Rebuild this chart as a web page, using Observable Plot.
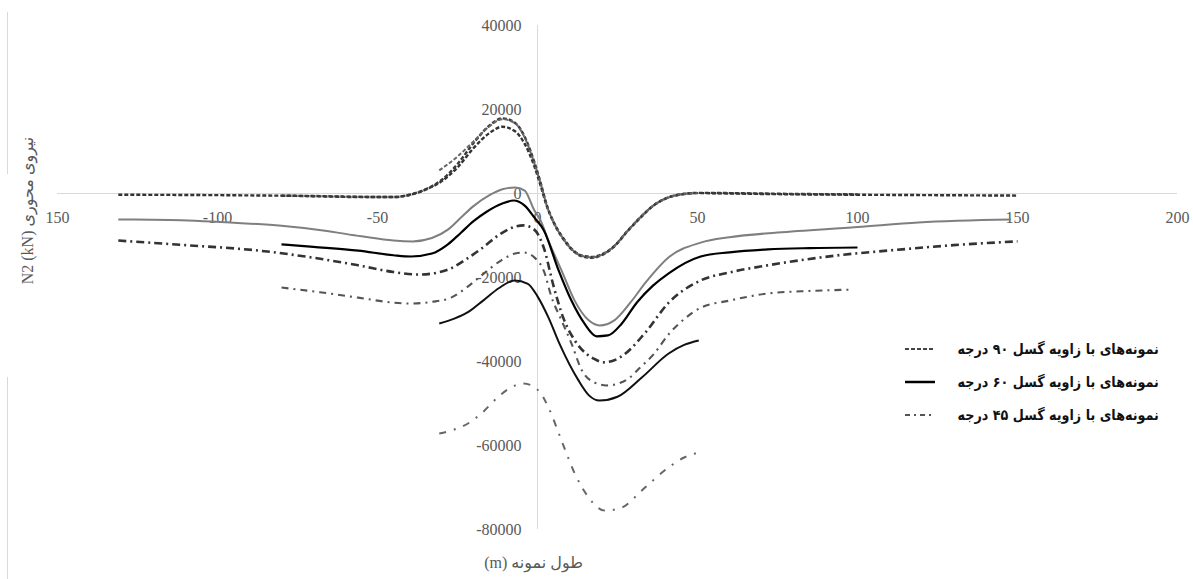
<!DOCTYPE html>
<html>
<head>
<meta charset="utf-8">
<script src="https://cdn.jsdelivr.net/npm/d3@7"></script>
<script src="https://cdn.jsdelivr.net/npm/@observablehq/plot@0.6"></script>
<style>
  html, body { margin: 0; padding: 0; background: #fff; }
  #wrap { position: relative; width: 1193px; height: 579px; overflow: hidden; }
  .border { position: absolute; left: 7px; width: 1px; background: #d9d9d9; }
  #legend { position: absolute; left: 903px; top: 333px; width: 256px; }
  .row { position: relative; height: 33px; }
  .row svg { position: absolute; left: 0; top: 11px; }
  .row span { position: absolute; right: 0; top: 6px; white-space: nowrap; direction: rtl;
              font-family: "DejaVu Sans", sans-serif; font-weight: bold; font-size: 14.5px; line-height: 20px; color: #111;
              transform: scaleX(0.88); transform-origin: right center; }
</style>
</head>
<body>
<div id="wrap">
  <div class="border" style="top:12px;height:162px"></div>
  <div class="border" style="top:377px;height:202px"></div>
  <div id="chart"></div>
  <div id="legend"></div>
</div>
<script>
// ---- axis ticks ----
const xTicks = [-150, -100, -50, 0, 50, 100, 150, 200];
const xTickLabels = ["150", "-100", "-50", "0", "50", "100", "150", "200"];
const yTicks = [40000, 20000, 0, -20000, -40000, -60000, -80000];

const yTitle = "N2 (kN) نیروی محوری";
const xTitle = "طول نمونه (m)";
const legendLabels = [
  "نمونه‌های با زاویه گسل ۹۰ درجه",
  "نمونه‌های با زاویه گسل ۶۰ درجه",
  "نمونه‌های با زاویه گسل ۴۵ درجه"
];

// ---- fault angle 90° (dashed) ----
const f90_long = [[-131,-300],[-110,-350],[-90,-450],[-70,-600],[-55,-800],[-45,-850],[-40,-350],[-35,900],[-30,2900],[-25,6200],[-20,10800],[-15,14400],[-11,15900],[-7,14800],[-4,11800],[-1,6500],[1,1800],[3,-3200],[5,-6800],[8,-10600],[11,-13400],[14,-14800],[17,-15100],[20,-14500],[24,-12500],[28,-9000],[32,-5800],[36,-3000],[40,-1200],[45,-200],[50,100],[60,0],[80,-200],[100,-300],[125,-400],[150,-500]];
const f90_mid = [[-80,-500],[-70,-650],[-55,-850],[-45,-850],[-40,-300],[-35,1000],[-30,3200],[-25,7000],[-20,12000],[-15,16200],[-11,17900],[-7,16800],[-4,13500],[-1,7500],[1,2500],[3,-3000],[5,-6800],[8,-10800],[11,-13600],[14,-15000],[17,-15300],[20,-14700],[24,-12600],[28,-9100],[32,-5900],[36,-3000],[40,-1200],[45,-200],[50,150],[60,100],[80,-100],[100,-200]];
const f90_short = [[-30.7,5500],[-25,8800],[-20,12400],[-15,16000],[-11,17700],[-7,16700],[-4,13300],[-1,7200],[1,2300],[3,-3100],[5,-6800],[8,-10700],[11,-13500],[14,-14900],[17,-15200],[20,-14600],[24,-12500],[28,-9000],[32,-5800],[36,-3000],[40,-1200],[45,-200],[50,100]];

// ---- fault angle 60° (solid) ----
const f60_long = [[-131,-6200],[-115,-6300],[-96,-6900],[-80,-7700],[-67,-8800],[-55,-10200],[-45,-11200],[-39,-11400],[-33,-10600],[-28,-8600],[-24,-5800],[-20,-3000],[-15,-400],[-11,1000],[-7,1450],[-4,700],[-1,-4000],[1,-6500],[3.4,-11200],[7.5,-18300],[11.6,-25500],[16,-30200],[19.4,-31400],[24,-30200],[29,-26000],[34,-21000],[41,-15200],[51,-11700],[60,-10400],[75,-9300],[100,-8000],[119,-6900],[148,-6200]];
const f60_mid = [[-80,-12100],[-70,-12700],[-56,-13600],[-45,-14700],[-39.5,-15000],[-33,-14300],[-28,-12100],[-24,-9400],[-20,-6600],[-16,-4400],[-11,-2400],[-7.5,-1670],[-4,-2900],[-1,-5700],[2,-8800],[6.6,-18300],[10.6,-25500],[14.7,-31000],[18.5,-34000],[22,-33800],[26.3,-31000],[31,-26000],[36,-22000],[41,-19000],[51,-15000],[60,-14000],[72,-13300],[85,-13000],[100,-12860]];
const f60_short = [[-30.7,-30950],[-26,-29800],[-21.6,-28200],[-17,-25500],[-12,-22500],[-7.2,-20700],[-3,-21500],[0,-24500],[3.4,-29500],[7,-36000],[12.8,-44500],[16,-48000],[19.4,-49300],[25,-48400],[32.6,-43800],[41,-38100],[46,-36000],[50.4,-35000]];

// ---- fault angle 45° (dash-dot) ----
const f45_long = [[-131,-11200],[-110,-12300],[-87,-13600],[-70,-15300],[-56,-17100],[-45,-18700],[-37,-19300],[-31,-18800],[-27,-17800],[-22,-15500],[-17.5,-13100],[-11.3,-9500],[-7,-7900],[-4.4,-7600],[-1,-8600],[2,-13000],[5,-22000],[8,-29500],[11.5,-34800],[15,-38000],[17.5,-39300],[20.7,-40200],[24,-39700],[27,-38400],[33.5,-33300],[41,-26000],[51,-20700],[60,-18800],[72,-17100],[93,-14800],[114,-13300],[130,-12300],[150,-11400]];
const f45_mid = [[-80,-22400],[-68,-23500],[-56,-24800],[-46,-25900],[-40,-26200],[-33,-25800],[-27,-24800],[-22,-22300],[-17.5,-19500],[-11.3,-15900],[-7,-14300],[-4.4,-14050],[-1,-15200],[2,-18500],[4.4,-24700],[7.5,-30200],[10.6,-35700],[13.8,-42000],[17.8,-45000],[21.6,-45700],[25,-45300],[28.5,-44000],[32,-41500],[36.6,-38000],[41,-33500],[46,-29800],[51,-27200],[60,-25500],[72,-23800],[85,-23200],[98,-22900]];
const f45_short = [[-30.7,-57140],[-26,-56200],[-21.6,-54700],[-17,-52000],[-13.5,-49300],[-9,-46500],[-4.4,-45240],[0.3,-46900],[3.4,-50900],[7.5,-58800],[11.6,-66600],[16,-72400],[21,-75500],[26.3,-74800],[32.6,-70700],[41,-65200],[46,-62800],[50.4,-61670]];

const series = [
  {data: f90_long,  stroke: "#333",   width: 2.4, dash: "4,2"},
  {data: f90_mid,   stroke: "#3a3a3a",width: 2.4, dash: "4,2"},
  {data: f90_short, stroke: "#666",   width: 2.0, dash: "4,2"},
  {data: f60_long,  stroke: "#7f7f7f",width: 2.0, dash: null},
  {data: f60_mid,   stroke: "#000",   width: 2.2, dash: null},
  {data: f60_short, stroke: "#111",   width: 2.0, dash: null},
  {data: f45_long,  stroke: "#333",   width: 2.6, dash: "8,4,2,4"},
  {data: f45_mid,   stroke: "#555",   width: 2.1, dash: "7,5,2,5"},
  {data: f45_short, stroke: "#666",   width: 2.0, dash: "7,8,2,8"}
];

const labelFont = "'Liberation Serif', 'DejaVu Sans', serif";
const grey = "#595959";

const lineMarks = series.map(s => Plot.line(s.data.map(([x, y]) => ({x, y})), {
  x: "x", y: "y", stroke: s.stroke, strokeWidth: s.width,
  strokeDasharray: s.dash ?? undefined, strokeLinecap: "butt", curve: "monotone-x"
}));

const chart = Plot.plot({
  width: 1193,
  height: 579,
  marginLeft: 57,
  marginRight: 16,
  marginTop: 25,
  marginBottom: 50,
  x: {domain: [-150, 200], axis: null},
  y: {domain: [-80000, 40000], axis: null},
  style: {fontFamily: labelFont, background: "white"},
  marks: [
    Plot.ruleY([0], {x1: -150, x2: 200, stroke: "#d9d9d9", strokeWidth: 1}),
    Plot.ruleX([0], {y1: -80000, y2: 40000, stroke: "#d9d9d9", strokeWidth: 1}),
    Plot.text(xTicks, {x: d => d, y: 0, text: (d, i) => xTickLabels[i], dy: 24, fontSize: 16, fontFamily: labelFont, fill: grey}),
    Plot.text(yTicks, {x: 0, y: d => d, text: d => String(d), dx: -16, textAnchor: "end", fontSize: 16, fontFamily: labelFont, fill: grey}),
    Plot.text([yTitle], {frameAnchor: "left", textAnchor: "middle", lineAnchor: "middle", rotate: -90, dx: -30, dy: -67, fontSize: 16, fontFamily: labelFont, fill: grey}),
    Plot.text([xTitle], {frameAnchor: "bottom", textAnchor: "middle", lineAnchor: "middle", dx: -84, dy: 33, fontSize: 16, fontFamily: labelFont, fill: grey}),
    ...lineMarks
  ]
});
chart.querySelectorAll("text").forEach(t => {
  if (t.textContent === xTitle) { t.setAttribute("direction", "rtl"); t.style.direction = "rtl"; t.style.unicodeBidi = "embed"; }
});
document.getElementById("chart").appendChild(chart);

// ---- legend ----
const legendStyles = [
  {stroke: "#444", width: 2, dash: "4,2"},
  {stroke: "#000", width: 2.5, dash: null},
  {stroke: "#555", width: 2, dash: "5,4,2,4"}
];
const legend = document.getElementById("legend");
legendLabels.forEach((label, i) => {
  const st = legendStyles[i];
  const row = document.createElement("div");
  row.className = "row";
  row.innerHTML = `<svg width="34" height="10"><line x1="2" y1="5" x2="32" y2="5" stroke="${st.stroke}" stroke-width="${st.width}" ${st.dash ? `stroke-dasharray="${st.dash}"` : ""}/></svg><span>${label}</span>`;
  legend.appendChild(row);
});
</script>
</body>
</html>
